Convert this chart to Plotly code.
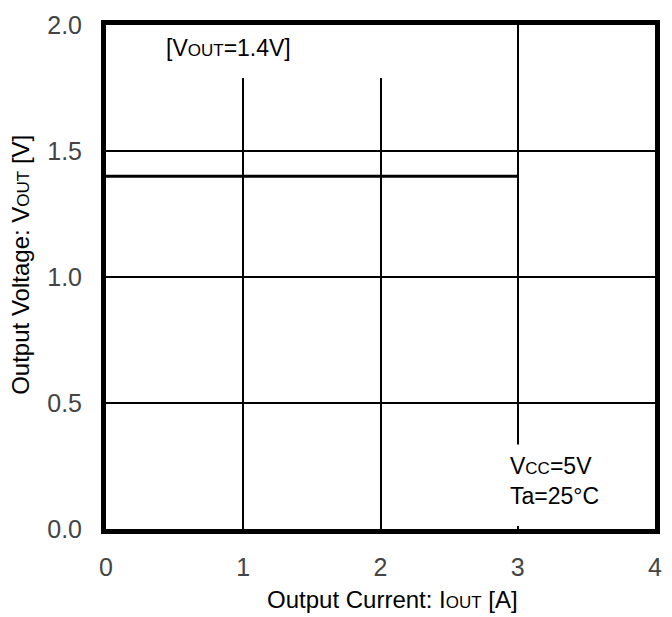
import plotly.graph_objects as go

# Data
iout = [0, 3]          # Output current [A]
vout = [1.4, 1.4]      # Output voltage [V]
x_ticks = [0, 1, 2, 3, 4]
y_ticks = [0.0, 0.5, 1.0, 1.5, 2.0]
x_title = "Output Current: I<span style=\"font-size:17px\">OUT</span> [A]"
y_title = "Output Voltage: V<span style=\"font-size:17px\">OUT</span> [V]"
note_top = "[V<span style=\"font-size:17px\">OUT</span>=1.4V]"
note_cond = "V<span style=\"font-size:17px\">CC</span>=5V<br>Ta=25°C"

fig = go.Figure()
fig.add_trace(go.Scatter(x=iout, y=vout, mode="lines",
                         line=dict(color="black", width=3), showlegend=False,
                         hoverinfo="skip"))

tickfont = dict(family="Liberation Sans, Arial, sans-serif", size=25, color="#444")
titlefont = dict(family="Liberation Sans, Arial, sans-serif", size=24, color="black")
notefont = dict(family="Liberation Sans, Arial, sans-serif", size=23, color="black")

fig.update_layout(
    width=672, height=617,
    margin=dict(l=106, r=10, t=25, b=88),
    paper_bgcolor="white", plot_bgcolor="white",
    xaxis=dict(range=[0, 4], tickvals=x_ticks, ticktext=[str(v) for v in x_ticks],
               showgrid=True, gridcolor="black", gridwidth=1.6,
               showline=True, linecolor="black", linewidth=5, mirror=True,
               zeroline=False, ticks="", tickfont=tickfont, ticklabelstandoff=12),
    yaxis=dict(range=[0, 2], tickvals=y_ticks, ticktext=[f"{v:.1f}" for v in y_ticks],
               showgrid=True, gridcolor="black", gridwidth=1.6,
               showline=True, linecolor="black", linewidth=5, mirror=True,
               zeroline=False, ticks="", tickfont=tickfont, ticklabelstandoff=14),
)

# axis titles
fig.add_annotation(x=0.522, y=-0.139, xref="paper", yref="paper", showarrow=False,
                   text=x_title, font=titlefont, xanchor="center", yanchor="middle")
fig.add_annotation(x=-0.155, y=0.524, xref="paper", yref="paper", showarrow=False,
                   text=y_title, font=titlefont, textangle=-90,
                   xanchor="center", yanchor="middle")

# white cover areas behind the in-plot texts
fig.add_shape(type="rect", xref="x", yref="y", x0=0.05, x1=2.5, y0=1.79, y1=2.0,
              fillcolor="white", line=dict(width=0), layer="above")
fig.add_shape(type="rect", xref="x", yref="y", x0=2.8, x1=3.8, y0=0.012, y1=0.335,
              fillcolor="white", line=dict(width=0), layer="above")

fig.add_annotation(x=0.89, y=1.91, xref="x", yref="y", showarrow=False,
                   text=note_top, font=notefont, xanchor="center", yanchor="middle")
fig.add_annotation(x=2.93, y=0.19, xref="x", yref="y", showarrow=False,
                   text=note_cond, font=notefont,
                   xanchor="left", yanchor="middle", align="left")

fig.write_html("out.html", config={"displayModeBar": False},
               post_script="document.body.style.margin='0';")
